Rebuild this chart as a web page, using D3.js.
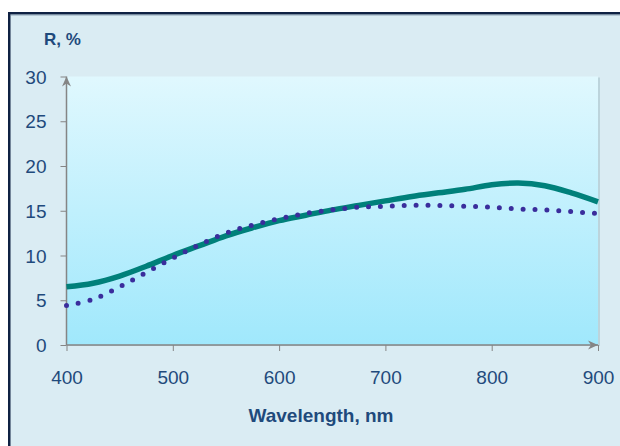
<!DOCTYPE html>
<html><head><meta charset="utf-8">
<script src="https://cdn.jsdelivr.net/npm/d3@7"></script>
<style>html,body{margin:0;padding:0;background:#fff;}svg{display:block;}</style>
</head><body>
<svg id="c" width="620" height="446"></svg>
<script>
const wavelengths = [400,425,450,475,500,525,550,575,600,625,650,675,700,725,750,775,800,825,850,875,900];
const solidR  = [6.5,6.9,7.7,8.8,10.0,11.1,12.2,13.1,13.9,14.5,15.1,15.6,16.1,16.6,17.0,17.4,17.9,18.1,17.8,17.0,16.0];
const dottedR = [4.4,5.1,6.5,8.1,9.7,11.2,12.5,13.4,14.1,14.7,15.1,15.4,15.5,15.6,15.6,15.5,15.4,15.2,15.1,14.9,14.7];
const xTicks = [400,500,600,700,800,900];
const yTicks = [0,5,10,15,20,25,30];

const svg = d3.select("#c");
const W = 620, H = 446;
const L = 66.5, R = 598, T = 76.5, B = 345;

// outer panel
svg.append("rect").attr("x",9.25).attr("y",13.25).attr("width",W).attr("height",H)
  .attr("fill","#daecf3").attr("stroke","#0f2143").attr("stroke-width",2.5);
svg.append("line").attr("x1",10.5).attr("x2",W).attr("y1",14.9).attr("y2",14.9)
  .attr("stroke","#7a8fa3").attr("stroke-width",1);

const defs = svg.append("defs");
const g = defs.append("linearGradient").attr("id","pg").attr("x1",0).attr("x2",0).attr("y1",0).attr("y2",1);
g.append("stop").attr("offset","0%").attr("stop-color","#e0f8fe");
g.append("stop").attr("offset","100%").attr("stop-color","#a0e8fc");
const mk = (id) => {
  const m = defs.append("marker").attr("id",id).attr("viewBox","0 0 10 10").attr("refX",10).attr("refY",5)
    .attr("markerWidth",10).attr("markerHeight",10).attr("markerUnits","userSpaceOnUse").attr("orient","auto");
  m.append("path").attr("d","M0,0.5 L10,5 L0,9.5 L3,5 Z").attr("fill","#858585");
};
mk("arr");

// shadow + plot bg
svg.append("rect").attr("x",L+1).attr("y",T+1).attr("width",R-L+1).attr("height",B-T).attr("fill","#bcd4dc");
svg.append("rect").attr("x",L).attr("y",T).attr("width",R-L).attr("height",B-T).attr("fill","url(#pg)");

const x = d3.scaleLinear().domain([400,900]).range([L,R]);
const y = d3.scaleLinear().domain([0,30]).range([B,T]);

const font = "'Liberation Sans', Arial, sans-serif";
const txt = "#1f4a7c";

// y axis
const ya = svg.append("g").attr("transform",`translate(${L},0)`)
  .call(d3.axisLeft(y).tickValues(yTicks).tickSize(6).tickPadding(14).tickFormat(d3.format("d")));
ya.select(".domain").remove();
ya.selectAll(".tick line").attr("stroke","#858585");
ya.selectAll(".tick text").attr("font-family",font).attr("font-size",19).attr("fill",txt).attr("dy","0.35em");

// x axis
const xa = svg.append("g").attr("transform",`translate(0,${B})`)
  .call(d3.axisBottom(x).tickValues(xTicks).tickSize(6).tickPadding(20).tickFormat(d3.format("d")));
xa.select(".domain").remove();
xa.selectAll(".tick line").attr("stroke","#858585");
xa.selectAll(".tick text").attr("font-family",font).attr("font-size",19).attr("fill",txt);

// axis lines with arrows
svg.append("line").attr("x1",L).attr("x2",L).attr("y1",B).attr("y2",T)
  .attr("stroke","#858585").attr("stroke-width",1.5).attr("marker-end","url(#arr)");
svg.append("line").attr("x1",L).attr("x2",R).attr("y1",B).attr("y2",B)
  .attr("stroke","#858585").attr("stroke-width",1.5).attr("marker-end","url(#arr)");

// lines
const solid = wavelengths.map((w,i)=>[w,solidR[i]]);
const dotted = wavelengths.map((w,i)=>[w,dottedR[i]]);
const line = d3.line().x(d=>x(d[0])).y(d=>y(d[1])).curve(d3.curveCatmullRom.alpha(0.5));

svg.append("path").attr("d",line(solid)).attr("fill","none").attr("stroke","#00807a").attr("stroke-width",5.5);
svg.append("path").attr("d",line(dotted)).attr("fill","none").attr("stroke","#3a2d9c")
  .attr("stroke-width",5).attr("stroke-linecap","round").attr("stroke-dasharray","0 11.9");

// titles
svg.append("text").attr("x",44).attr("y",44.5).attr("font-family",font).attr("font-weight","bold")
  .attr("font-size",17).attr("fill",txt).text("R, %");
svg.append("text").attr("x",321).attr("y",422).attr("text-anchor","middle").attr("font-family",font)
  .attr("font-weight","bold").attr("font-size",19).attr("fill",txt).text("Wavelength, nm");
</script>
</body></html>
